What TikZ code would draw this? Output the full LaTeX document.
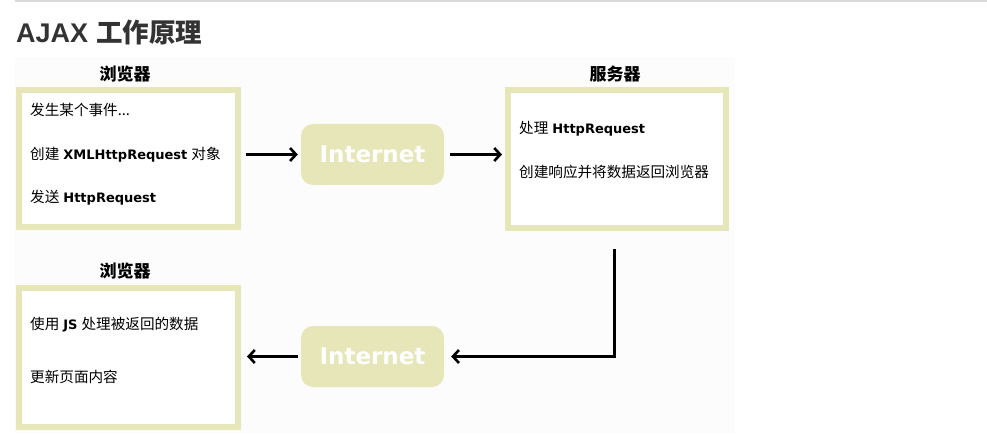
\documentclass[tikz,border=0pt]{standalone}
\usepackage{fontspec}
\setmainfont{Noto Sans CJK SC}
\newfontfamily\lat{DejaVu Sans}
\newfontfamily\arial{Liberation Sans}
\usetikzlibrary{arrows.meta}
\definecolor{khaki}{HTML}{E6E6B8}
\definecolor{titlegray}{HTML}{333333}
\tikzset{
  frame/.style={draw=khaki, line width=6pt, fill=white, inner sep=0pt},
  net/.style={fill=khaki, rounded corners=12pt, minimum width=143pt, minimum height=61pt,
    font=\lat\bfseries\fontsize{23}{23}\selectfont, text=white, inner sep=0pt},
  lbl/.style={font=\bfseries\fontsize{17}{17}\selectfont, inner sep=0pt},
  txt/.style={anchor=west, font=\fontsize{14.6}{15}\selectfont, inner sep=0pt, text=black},
  arr/.style={line width=3pt, -{Straight Barb[length=6pt,width=13pt,line width=2.6pt]}}
}
\newcommand{\lb}[1]{\hspace{4pt}{\lat\bfseries\fontsize{13}{14}\selectfont #1}\hspace{4pt}}
\begin{document}
\begin{tikzpicture}[x=1pt,y=-1pt]
\useasboundingbox (0,0) rectangle (987,435);
\fill[white] (0,0) rectangle (987,435);
\draw[draw=black!15, line width=2pt] (15,1) -- (987,1);
\fill[black!1] (15,57) rectangle (735,433);
\node[anchor=west, inner sep=0pt, text=titlegray] (title) at (16,32)
  {{\arial\bfseries\fontsize{27}{28}\selectfont AJAX}\hspace{8pt}{\bfseries\fontsize{26.5}{28}\selectfont 工作原理}};

\node[frame, minimum width=219pt, minimum height=137pt] (box1) at (128.5,158.5) {};
\node[frame, minimum width=218pt, minimum height=138pt] (box2) at (617,159) {};
\node[frame, minimum width=219pt, minimum height=139pt] (box3) at (128.5,357.5) {};
\node[net] (in1) at (372.5,154.5) {Internet};
\node[net] (in2) at (372.5,356.5) {Internet};

\node[lbl] (l1) at (125,74) {浏览器};
\node[lbl] (l2) at (615,74) {服务器};
\node[lbl] (l3) at (125,271) {浏览器};

\node[txt] (t11) at (30,110) {发生某个事件...};
\node[txt] (t12) at (30,155) {创建\lb{XMLHttpRequest}对象};
\node[txt] (t13) at (30,198) {发送\lb{HttpRequest}};
\node[txt] (t21) at (519,129) {处理\lb{HttpRequest}};
\node[txt] (t22) at (519,172) {创建响应并将数据返回浏览器};
\node[txt] (t31) at (30,325) {使用\lb{JS}处理被返回的数据};
\node[txt] (t32) at (30,377) {更新页面内容};

\coordinate (down) at (614,249);
\draw[arr, shorten <=5pt, shorten >=3pt] (box1.east |- in1.west) -- (in1.west);
\draw[arr, shorten <=6pt, shorten >=3pt] (in1.east) -- (box2.west |- in1.east);
\draw[arr, shorten >=7pt] (down) |- (in2.east);
\draw[arr, shorten <=3pt, shorten >=6pt] (in2.west) -- (box3.east |- in2.west);
\end{tikzpicture}
\end{document}
